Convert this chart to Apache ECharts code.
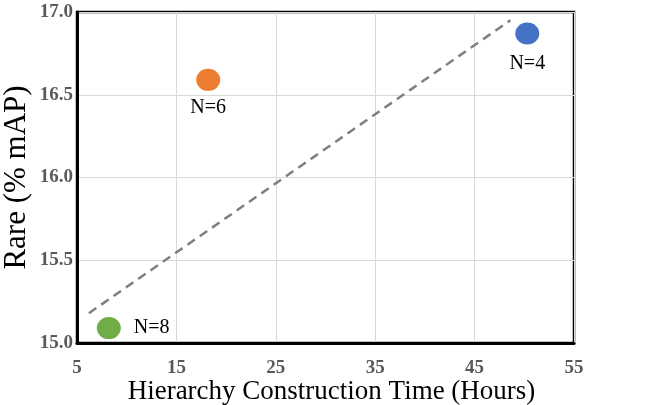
<!DOCTYPE html>
<html>
<head>
<meta charset="utf-8">
<script src="https://cdn.jsdelivr.net/npm/echarts@6/dist/echarts.min.js"></script>
<style>html,body{margin:0;padding:0;background:#fff}#c{width:655px;height:405px}</style>
</head>
<body>
<div id="c"></div>
<script>
var pointLabels = ['N=8', 'N=6', 'N=4'];
var pointX = [8.2, 18.2, 50.3];
var pointY = [15.09, 16.59, 16.87];
var pointColors = ['#70ad47', '#ed7d31', '#4472c4'];
var trendX = [6.2, 48.6];
var trendY = [15.18, 16.95];
var xTicks = [5, 15, 25, 35, 45, 55];
var yTicks = [15.0, 15.5, 16.0, 16.5, 17.0];

var chart = echarts.init(document.getElementById('c'));
var serif = '"Liberation Serif", "DejaVu Serif", serif';
var labelPos = ['right', 'bottom', 'bottom'];
var labelDist = [13, 7, 9];

var pointData = pointX.map(function (x, i) {
  return {
    value: [x, pointY[i]],
    itemStyle: { color: pointColors[i], opacity: 1 },
    label: {
      show: true, formatter: pointLabels[i], position: labelPos[i], distance: labelDist[i],
      fontFamily: serif, fontSize: 20, color: '#000'
    }
  };
});

chart.setOption({
  animation: false,
  grid: { left: 77, right: 81, top: 12, bottom: 62, containLabel: false, outerBoundsMode: 'none',
    show: true, borderColor: '#000', borderWidth: 2.5, backgroundColor: 'transparent' },
  xAxis: {
    type: 'value', min: 5, max: 55, interval: 10,
    name: 'Hierarchy Construction Time (Hours)', nameLocation: 'middle', nameGap: 35, nameMoveOverlap: false,
    nameTextStyle: { fontFamily: serif, fontSize: 27, color: '#000', padding: [0, 0, 0, 12] },
    axisLine: { show: true, lineStyle: { color: '#000', width: 3 } },
    axisTick: { show: false },
    axisLabel: { fontFamily: serif, fontSize: 19, fontWeight: 'bold', color: '#595959', margin: 16,
      formatter: function (v) { return xTicks.indexOf(v) >= 0 ? String(v) : ''; } },
    splitLine: { show: true, lineStyle: { color: '#d9d9d9', width: 1 } }
  },
  yAxis: {
    type: 'value', min: 15, max: 17, interval: 0.5,
    name: 'Rare (% mAP)', nameLocation: 'middle', nameGap: 45, nameMoveOverlap: false,
    nameTextStyle: { fontFamily: serif, fontSize: 31, color: '#000' },
    axisLine: { show: true, lineStyle: { color: '#000', width: 3 } },
    axisTick: { show: false },
    axisLabel: { fontFamily: serif, fontSize: 19, fontWeight: 'bold', color: '#595959', margin: 4,
      formatter: function (v) { return yTicks.indexOf(v) >= 0 ? v.toFixed(1) : ''; } },
    splitLine: { show: true, lineStyle: { color: '#d9d9d9', width: 1 } }
  },
  series: [
    {
      type: 'line', data: trendX.map(function (x, i) { return [x, trendY[i]]; }),
      symbol: 'none', lineStyle: { color: '#7f7f7f', width: 2.5, type: [9, 6] }, z: 2
    },
    {
      type: 'scatter', data: pointData, symbol: 'circle', symbolSize: [24, 22], z: 3,
      emphasis: { disabled: true }
    }
  ]
});
</script>
</body>
</html>
